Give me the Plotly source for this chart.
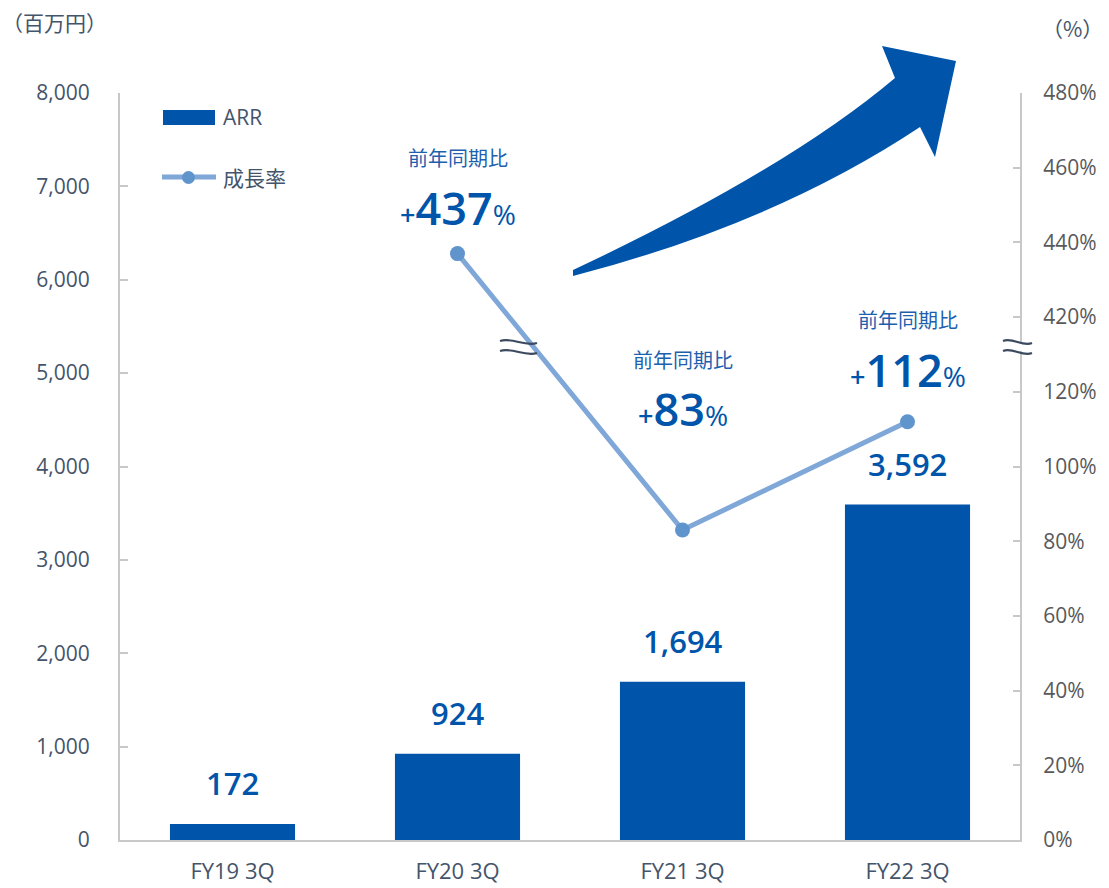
import plotly.graph_objects as go

# ---- data ----
categories = ["FY19 3Q", "FY20 3Q", "FY21 3Q", "FY22 3Q"]
arr_values = [172, 924, 1694, 3592]          # 百万円
growth_categories = ["FY20 3Q", "FY21 3Q", "FY22 3Q"]
growth_values = [437, 83, 112]               # % 前年同期比

left_ticks = [0, 1000, 2000, 3000, 4000, 5000, 6000, 7000, 8000]
right_tick_labels = ["0%", "20%", "40%", "60%", "80%", "100%", "120%",
                     "420%", "440%", "460%", "480%"]
right_tick_values = [0, 20, 40, 60, 80, 100, 120, 420, 440, 460, 480]

# ---- broken right axis: values above the break are shifted down ----
BREAK_HIGH, BREAK_GAP = 400, 280


def to_axis(v):
    return v - BREAK_GAP if v >= BREAK_HIGH else v


# ---- styling ----
BAR_BLUE = "#0055AA"
LINE_BLUE = "#7FA7D8"
MARK_BLUE = "#6094CC"
TEXT_GRAY = "#44546A"
RIGHT_GRAY = "#595959"
AXIS_GRAY = "#C8C8C8"
WAVE = "#3C4A60"
FONT = "Open Sans, Noto Sans CJK JP, sans-serif"
JP_FONT = "Noto Sans CJK JP, sans-serif"

W, H = 1109, 888
ML, MR, MT, MB = 120, 89, 93, 48
PW, PH = W - ML - MR, H - MT - MB


def paper(xp, yp):
    """pixel position -> paper coordinates"""
    return (xp - ML) / PW, (H - MB - yp) / PH


def path_from_px(cmds):
    out = []
    for c in cmds:
        if isinstance(c, str):
            out.append(c)
        else:
            x, y = paper(*c)
            out.append(f"{x:.5f},{y:.5f}")
    return " ".join(out)


fig = go.Figure()

fig.add_trace(go.Bar(
    x=categories, y=arr_values, name="ARR",
    marker=dict(color=BAR_BLUE, line=dict(width=0)),
    width=0.556, yaxis="y", showlegend=False, hoverinfo="x+y",
))

fig.add_trace(go.Scatter(
    x=growth_categories, y=[to_axis(v) for v in growth_values], name="成長率",
    mode="lines+markers", yaxis="y2",
    line=dict(color=LINE_BLUE, width=5),
    marker=dict(color=MARK_BLUE, size=15),
    showlegend=False,
    customdata=growth_values, hovertemplate="%{x}: %{customdata}%<extra></extra>",
))

annotations = []

# value labels above the bars
for c, v in zip(categories, arr_values):
    annotations.append(dict(
        x=c, y=v, xref="x", yref="y", text=f"{v:,}", showarrow=False,
        yanchor="bottom", yshift=18,
        font=dict(family=FONT, size=31, color=BAR_BLUE, weight=600),
    ))

# growth rate call-outs above the line points
value_shift = [14, 89, 20]
title_shift = [80, 154, 86]
for c, v, s, t in zip(growth_categories, growth_values, value_shift, title_shift):
    annotations.append(dict(
        x=c, y=to_axis(v), xref="x", yref="y2", showarrow=False,
        yanchor="bottom", yshift=s,
        text=(f"<span style='font-size:27px'>+</span>{v}"
              f"<span style='font-size:28px;font-weight:normal'>%</span>"),
        font=dict(family=FONT, size=45, color=BAR_BLUE, weight=600),
    ))
    annotations.append(dict(
        x=c, y=to_axis(v), xref="x", yref="y2", showarrow=False,
        yanchor="bottom", yshift=t,
        text="前年同期比",
        font=dict(family=JP_FONT, size=20, color="#1E5FAE"),
    ))

# unit labels
annotations.append(dict(
    x=0, y=1, xref="paper", yref="paper", xanchor="left", yanchor="top",
    xshift=-ML + 0, yshift=MT - 5, text="（百万円）", showarrow=False,
    font=dict(family=JP_FONT, size=21, color=TEXT_GRAY),
))
annotations.append(dict(
    x=1, y=1, xref="paper", yref="paper", xanchor="left", yanchor="top",
    xshift=20, yshift=MT - 11, text="（%）", showarrow=False,
    font=dict(family=JP_FONT, size=21, color=TEXT_GRAY),
))

# legend entries
lx, ly = paper(221, 117)
annotations.append(dict(x=lx, y=ly, xref="paper", yref="paper", xanchor="left",
                        yanchor="middle", text="ARR", showarrow=False,
                        font=dict(family=FONT, size=21, color=TEXT_GRAY)))
lx, ly = paper(221, 177)
annotations.append(dict(x=lx, y=ly, xref="paper", yref="paper", xanchor="left",
                        yanchor="middle", text="成長率", showarrow=False,
                        font=dict(family=JP_FONT, size=21, color=TEXT_GRAY)))

shapes = []
x0, y0 = paper(163, 110)
x1, y1 = paper(215, 125)
shapes.append(dict(type="rect", xref="paper", yref="paper", x0=x0, y0=y0, x1=x1, y1=y1,
                   fillcolor=BAR_BLUE, line=dict(width=0)))
x0, y0 = paper(162, 177)
x1, _ = paper(216, 177)
shapes.append(dict(type="line", xref="paper", yref="paper", x0=x0, y0=y0, x1=x1, y1=y0,
                   line=dict(color=LINE_BLUE, width=5)))
x0, y0 = paper(182, 171)
x1, y1 = paper(195, 184)
shapes.append(dict(type="circle", xref="paper", yref="paper", x0=x0, y0=y0, x1=x1, y1=y1,
                   fillcolor=MARK_BLUE, line=dict(width=0)))

# curved growth arrow
arrow = path_from_px([
    "M", (573, 270),
    "Q", (786, 170), (895, 78),
    "L", (882, 46),
    "L", (956, 61),
    "L", (935, 157),
    "L", (920, 127),
    "Q", (774, 224), (573, 276),
    "Z",
])
shapes.append(dict(type="path", xref="paper", yref="paper", path=arrow,
                   fillcolor=BAR_BLUE, line=dict(width=0), layer="above"))


# axis-break wave marks
def wave(xa, xb, y):
    dx = (xb - xa) / 3
    return path_from_px(["M", (xa, y - 1), "C", (xa + dx, y - 5), (xb - dx, y + 5), (xb, y + 1)])


# gap in the right axis line
gx0, gy0 = paper(1014, 342)
gx1, gy1 = paper(1026, 351)
shapes.append(dict(type="rect", xref="paper", yref="paper", x0=gx0, y0=gy0, x1=gx1, y1=gy1,
                   fillcolor="white", line=dict(width=0), layer="above"))
for xa, xb in [(500, 537), (1003, 1032)]:
    for y in (342, 352):
        shapes.append(dict(type="path", xref="paper", yref="paper", path=wave(xa, xb, y),
                           line=dict(color=WAVE, width=2.2), layer="above"))

fig.update_layout(
    width=W, height=H,
    margin=dict(l=ML, r=MR, t=MT, b=MB, pad=0, autoexpand=False),
    paper_bgcolor="white", plot_bgcolor="white",
    font=dict(family=FONT, color=TEXT_GRAY),
    xaxis=dict(
        type="category", categoryorder="array", categoryarray=categories,
        range=[-0.5, 3.5], showgrid=False, zeroline=False, automargin=False,
        showline=True, linecolor=AXIS_GRAY, linewidth=2,
        ticks="", ticklabelstandoff=11,
        tickfont=dict(family=FONT, size=22, color=TEXT_GRAY),
    ),
    yaxis=dict(
        range=[0, 8000], tickvals=left_ticks, tickformat=",",
        showgrid=False, zeroline=False, automargin=False,
        showline=True, linecolor=AXIS_GRAY, linewidth=2,
        ticks="inside", ticklen=8, tickwidth=1.5, tickcolor=AXIS_GRAY,
        ticklabelstandoff=24,
        tickfont=dict(family=FONT, size=21, color=TEXT_GRAY),
    ),
    yaxis2=dict(
        overlaying="y", side="right", automargin=False,
        range=[0, to_axis(480)],
        tickvals=[to_axis(v) for v in right_tick_values],
        ticktext=right_tick_labels,
        showgrid=False, zeroline=False,
        showline=True, linecolor=AXIS_GRAY, linewidth=2,
        ticks="inside", ticklen=7, tickwidth=1.5, tickcolor=AXIS_GRAY,
        ticklabelstandoff=17,
        tickfont=dict(family=FONT, size=21, color=RIGHT_GRAY),
    ),
    annotations=annotations,
    shapes=shapes,
    showlegend=False,
)

fig.write_html("out.html")
